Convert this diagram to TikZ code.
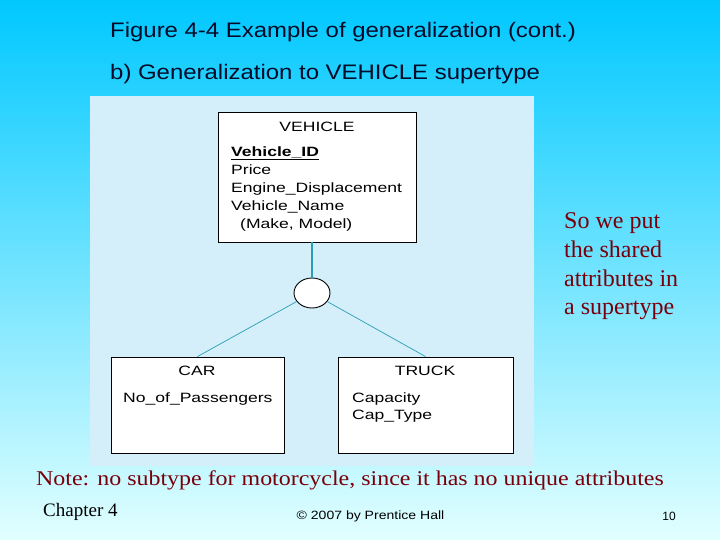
\documentclass[tikz,border=0pt]{standalone}
\usepackage{fontspec}
\setmainfont{Liberation Serif}
\setsansfont{Liberation Sans}
\newfontfamily\titlefont[FakeStretch=1.14]{Liberation Sans}
\newfontfamily\boxfont[FakeStretch=1.3]{Liberation Sans}
\newfontfamily\notefont[FakeStretch=1.14]{Liberation Serif}
\newfontfamily\footfont[FakeStretch=1.17]{Liberation Sans}
\usepackage{tikz}
\usetikzlibrary{shapes.geometric}
\definecolor{panelblue}{RGB}{212,238,250}
\definecolor{linkteal}{RGB}{38,160,180}
\definecolor{notered}{RGB}{120,0,10}
\definecolor{skytop}{RGB}{0,200,255}
\definecolor{skybottom}{RGB}{226,255,255}
\definecolor{titleink}{RGB}{5,10,40}

\begin{document}
\begin{tikzpicture}[x=1pt,y=-1pt,
	entity/.style={draw,fill=white,line width=0.9pt},
	header/.style={font=\boxfont\fontsize{13.5}{16}\selectfont,inner sep=0pt},
	attr/.style={font=\boxfont\fontsize{13.5}{16}\selectfont,anchor=west,inner sep=0pt,text height=9.5pt,text depth=2.5pt},
	link/.style={linkteal,line width=0.7pt},
	remark/.style={font=\fontsize{24}{28}\selectfont,text=notered,anchor=base west,inner sep=0pt}]
			\useasboundingbox (0,0) rectangle (720,540);
			\shade[top color=skytop,bottom color=skybottom] (0,0) rectangle (720,540);
			\fill[panelblue] (90,96) rectangle (534,466);
			\node[font=\titlefont\fontsize{21}{24}\selectfont,text=titleink,anchor=base west,inner sep=0pt] (title) at (110,37.5) {Figure 4-4 Example of generalization (cont.)};
			\node[font=\titlefont\fontsize{21}{24}\selectfont,text=titleink,anchor=base west,inner sep=0pt] (subtitle) at (110,79.5) {b) Generalization to VEHICLE supertype};
			\node[entity,minimum width=198pt,minimum height=130pt] (vehicle) at (317,177) {};
			\node[entity,minimum width=173pt,minimum height=96pt] (car) at (197.5,405) {};
			\node[entity,minimum width=175pt,minimum height=96pt] (truck) at (425.5,405) {};
			\node[ellipse,draw,fill=white,line width=0.9pt,minimum width=36pt,minimum height=30pt] (isa) at (312,293) {};
			\draw[link,line width=1.6pt] (isa.north) -- (isa.north |- vehicle.south);
			\draw[link] (isa) -- (car.north);
			\draw[link] (isa) -- (truck.north);
			\node[header] (vehicleHead) at (317,127) {VEHICLE};
			\node[attr] (vehicleId) at (231,153) {\underline{\textbf{Vehicle\_ID}}};
			\node[attr] (price) at (231,171) {Price};
			\node[attr] (engine) at (231,189) {Engine\_Displacement};
			\node[attr] (vehicleName) at (231,207) {Vehicle\_Name};
			\node[attr] (makeModel) at (240,225) {(Make, Model)};
			\node[header] (carHead) at (197,371) {CAR};
			\node[attr] (passengers) at (123,399) {No\_of\_Passengers};
			\node[header] (truckHead) at (425,371) {TRUCK};
			\node[attr] (capacity) at (352,399) {Capacity};
			\node[attr] (capType) at (352,416) {Cap\_Type};
			\node[remark] (remarkA) at (564,229) {So we put};
			\node[remark] (remarkB) at (564,257.5) {the shared};
			\node[remark] (remarkC) at (564,286) {attributes in};
			\node[remark] (remarkD) at (564,314.5) {a supertype};
			\node[font=\notefont\fontsize{21}{24}\selectfont,text=notered,anchor=base west,inner sep=0pt] (note) at (36,485) {Note: no subtype for motorcycle, since it has no unique attributes};
			\node[font=\fontsize{19}{22}\selectfont,anchor=base west,inner sep=0pt] (chapter) at (43,516) {Chapter 4};
			\node[font=\footfont\fontsize{12}{14}\selectfont,inner sep=0pt] (copyright) at (370.5,516) {\textcopyright{} 2007 by Prentice Hall};
			\node[font=\sffamily\fontsize{12}{14}\selectfont,inner sep=0pt] (pagenum) at (669,516) {10};
		\end{tikzpicture}
\end{document}
